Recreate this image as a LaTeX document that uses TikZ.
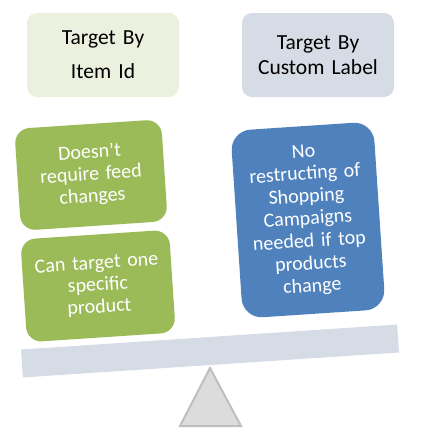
\documentclass[tikz,border=0pt]{standalone}
\usepackage{fontspec}
\setmainfont{Carlito}
\definecolor{topgreen}{HTML}{EBF1DE}
\definecolor{topblue}{HTML}{D6DCE5}
\definecolor{beamcol}{HTML}{D6DCE5}
\definecolor{boxgreen}{HTML}{9BBB59}
\definecolor{boxblue}{HTML}{4F81BD}
\definecolor{trifill}{HTML}{DCDCDC}
\definecolor{triline}{HTML}{BFBFBF}
\tikzset{
  headbox/.style={rounded corners=10pt, minimum width=152pt, minimum height=84pt,
    text width=150pt, align=center, inner sep=0pt,
    font=\fontsize{21.5}{25}\selectfont, text=black},
  probox/.style={rounded corners=15pt, inner sep=0pt, align=center, text=white,
    rotate=3.8, font=\fontsize{20}{22}\selectfont, fill=boxgreen},
}
\begin{document}
\begin{tikzpicture}[x=1pt,y=-1pt]
\useasboundingbox (0,0) rectangle (435,437);
% header boxes
\node[headbox, fill=topgreen] (hl) at (103,55) {Target By\\[9pt]Item Id};
\node[headbox, fill=topblue] (hr) at (318,55) {Target By\\Custom Label};
% beam
\node[rotate=3.8, fill=beamcol, minimum width=377pt, minimum height=28pt, inner sep=0pt] (beam) at (210,351) {};
% fulcrum
\coordinate (apex) at (210,368);
\coordinate (bl) at (180,426);
\coordinate (br) at (241,426);
\draw[fill=trifill, draw=triline, line width=2pt, line join=miter] (apex) -- (br) -- (bl) -- cycle;
% argument boxes
\node[probox, minimum width=147pt, minimum height=102pt, text width=140pt] (g1) at (91,175) {Doesn't\\require feed\\changes};
\node[probox, minimum width=149pt, minimum height=103pt, text width=145pt] (g2) at (98,286) {Can target one\\specific\\product};
\node[probox, fill=boxblue, rounded corners=20pt, minimum width=143pt, minimum height=188pt, text width=138pt,
  font=\fontsize{20}{22.5}\selectfont] (b1) at (308,220) {No\\restructing of\\Shopping\\Campaigns\\needed if top\\products\\change};
\end{tikzpicture}
\end{document}
